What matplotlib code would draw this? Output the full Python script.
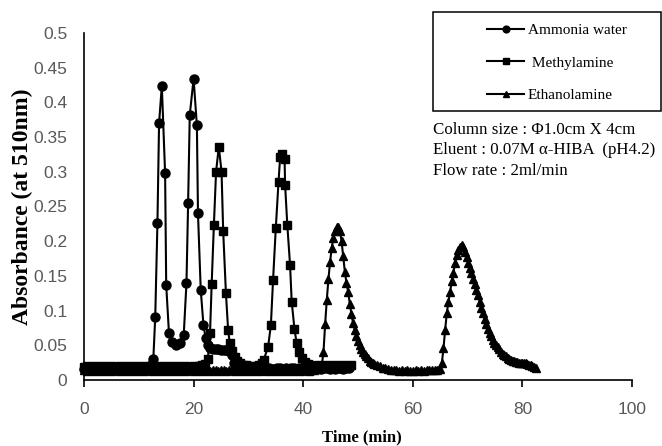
import matplotlib.pyplot as plt
from matplotlib.patches import Rectangle

# Ammonia water (circles)
t_amm = [0, 0.5, 1, 1.5, 2, 2.5, 3, 3.5, 4, 4.5, 5, 5.5, 6, 6.5, 7, 7.5, 8, 8.5, 9, 9.5,
         10, 10.5, 11, 11.5, 12, 12.3,
         12.65, 13.0, 13.4, 13.7, 14.2, 14.8, 15.0, 15.5, 16.1, 16.8, 17.5, 18.2, 18.7, 19.0,
         19.3, 20.0, 20.6, 20.8, 21.3, 21.8, 22.2, 22.6, 23.0, 23.5, 24.0, 24.5, 25.0, 25.5,
         26.0, 26.5, 27.0, 27.4, 27.8,
         28.3, 28.8, 29.3, 29.8, 30.3, 30.8, 31.3, 31.8, 32.3, 32.8, 33.3, 33.8, 34.3, 34.8,
         35.3, 35.8, 36.3, 36.8, 37.3, 37.8, 38.3, 38.8, 39.3, 39.8, 40.3, 40.8, 41.3, 41.8,
         42.3, 42.8, 43.3, 43.8, 44.3, 44.8, 45.3, 45.8, 46.3, 46.8, 47.3, 47.8, 48.3]
a_amm = [0.016, 0.017, 0.016, 0.016, 0.015, 0.016, 0.017, 0.016, 0.016, 0.015, 0.016, 0.016,
         0.017, 0.016, 0.015, 0.016, 0.016, 0.017, 0.016, 0.016, 0.015, 0.016, 0.016, 0.017,
         0.018, 0.021,
         0.030, 0.091, 0.226, 0.370, 0.424, 0.298, 0.137, 0.068, 0.055, 0.050, 0.053, 0.065,
         0.140, 0.255, 0.382, 0.434, 0.367, 0.240, 0.130, 0.079, 0.060, 0.050, 0.046, 0.045,
         0.044, 0.044, 0.043, 0.043, 0.043, 0.042, 0.036, 0.024, 0.019,
         0.017, 0.017, 0.016, 0.017, 0.016, 0.016, 0.017, 0.016, 0.017, 0.017, 0.016, 0.017,
         0.016, 0.016, 0.017, 0.017, 0.016, 0.017, 0.016, 0.017, 0.017, 0.016, 0.017, 0.016,
         0.017, 0.016, 0.017, 0.017, 0.016, 0.017, 0.016, 0.017, 0.017, 0.016, 0.017, 0.016,
         0.017, 0.017, 0.016, 0.017, 0.017]

# Methylamine (squares)
t_met = [0, 0.5, 1, 1.5, 2, 2.5, 3, 3.5, 4, 4.5, 5, 5.5, 6, 6.5, 7, 7.5, 8, 8.5, 9, 9.5,
         10, 10.5, 11, 11.5, 12, 12.5, 13, 13.5, 14, 14.5, 15, 15.5, 16, 16.5, 17, 17.5,
         18, 18.5, 19, 19.5, 20, 20.5, 21, 21.5, 22,
         22.6, 23.0, 23.3, 23.7, 24.1, 24.6, 25.1, 25.4, 25.9, 26.3, 26.6, 27.0, 27.5, 28.0,
         28.5, 29.0, 29.5, 30.0, 30.5, 31.0, 31.5, 32.0, 32.4, 32.8,
         33.6, 34.1, 34.5, 35.0, 35.5, 35.8, 36.2, 36.6, 36.7, 37.1, 37.6, 37.9, 38.4, 38.8,
         39.3, 39.8, 40.3, 40.8,
         41.3, 41.8, 42.3, 42.8, 43.3, 43.8, 44.3, 44.8, 45.3, 45.8, 46.3, 46.8, 47.3, 47.8,
         48.3, 48.8]
a_met = [0.019, 0.020, 0.019, 0.019, 0.020, 0.019, 0.019, 0.020, 0.019, 0.019, 0.020, 0.019,
         0.019, 0.020, 0.019, 0.019, 0.020, 0.019, 0.019, 0.020, 0.019, 0.019, 0.020, 0.019,
         0.019, 0.020, 0.019, 0.019, 0.020, 0.019, 0.019, 0.020, 0.019, 0.019, 0.020, 0.019,
         0.019, 0.020, 0.019, 0.019, 0.020, 0.019, 0.020, 0.021, 0.023,
         0.030, 0.068, 0.139, 0.223, 0.300, 0.336, 0.300, 0.214, 0.125, 0.072, 0.053, 0.042,
         0.033, 0.027, 0.024, 0.022, 0.021, 0.020, 0.020, 0.019, 0.020, 0.021, 0.024, 0.029,
         0.048, 0.079, 0.144, 0.219, 0.286, 0.322, 0.325, 0.318, 0.281, 0.223, 0.166, 0.113,
         0.074, 0.053, 0.040, 0.032, 0.026, 0.023,
         0.021, 0.020, 0.020, 0.021, 0.020, 0.020, 0.021, 0.020, 0.020, 0.021, 0.020, 0.020,
         0.021, 0.020, 0.020, 0.021]

# Ethanolamine (triangles)
t_eth = [0, 0.5, 1, 1.5, 2, 2.5, 3, 3.5, 4, 4.5, 5, 5.5, 6, 6.5, 7, 7.5, 8, 8.5, 9, 9.5,
         10, 10.5, 11, 11.5, 12, 12.5, 13, 13.5, 14, 14.5, 15, 15.5, 16, 16.5, 17, 17.5,
         18, 18.5, 19, 19.5, 20, 20.5, 21, 21.5, 22, 22.5, 23, 23.5, 24, 24.5, 25, 25.5,
         26, 26.5, 27, 27.5, 28, 28.5, 29, 29.5, 30, 30.5, 31, 31.5, 32, 32.5, 33, 33.5,
         34, 34.5, 35, 35.5, 36, 36.5, 37, 37.5, 38, 38.5, 39, 39.5, 40, 40.5, 41, 41.5,
         42, 42.5, 43,
         43.4, 43.7, 44.0, 44.3, 44.6, 44.9, 45.2, 45.5, 45.8, 46.1, 46.4, 46.7, 47.0, 47.3,
         47.6, 47.9, 48.2, 48.5, 48.8, 49.1, 49.4, 49.7, 50.0, 50.3, 50.6, 50.9, 51.2, 51.5,
         51.8, 52.1, 52.4, 52.7, 53.0, 53.5, 54.0, 54.5, 55.0, 55.5,
         56, 56.5, 57, 57.5, 58, 58.5, 59, 59.5, 60, 60.5, 61, 61.5, 62, 62.5, 63, 63.5,
         64, 64.5, 65,
         65.3, 65.6, 65.9, 66.2, 66.5, 66.8, 67.1, 67.4, 67.7, 68.0, 68.3, 68.6, 68.9, 69.2,
         69.5, 69.8, 70.1, 70.4, 70.7, 71.0, 71.3, 71.6, 71.9, 72.2, 72.5, 72.8, 73.1, 73.4,
         73.7, 74.0, 74.3, 74.6, 74.9, 75.2, 75.5, 75.8, 76.1, 76.4, 76.7, 77.0, 77.3, 77.6,
         77.9, 78.2, 78.5, 78.8, 79.1, 79.4, 79.7, 80.0, 80.3, 80.6, 80.9, 81.2, 81.5, 81.8,
         82.1, 82.4]
a_eth = [0.014, 0.013, 0.014, 0.014, 0.013, 0.014, 0.014, 0.013, 0.014, 0.014, 0.013, 0.014,
         0.014, 0.013, 0.014, 0.014, 0.013, 0.014, 0.014, 0.013, 0.014, 0.014, 0.013, 0.014,
         0.014, 0.013, 0.014, 0.014, 0.013, 0.014, 0.014, 0.013, 0.014, 0.014, 0.013, 0.014,
         0.014, 0.013, 0.014, 0.014, 0.013, 0.014, 0.014, 0.013, 0.014, 0.014, 0.013, 0.014,
         0.014, 0.013, 0.014, 0.014, 0.013, 0.014, 0.014, 0.013, 0.014, 0.014, 0.013, 0.014,
         0.014, 0.013, 0.014, 0.014, 0.013, 0.014, 0.014, 0.013, 0.014, 0.014, 0.013, 0.014,
         0.014, 0.013, 0.014, 0.014, 0.013, 0.014, 0.014, 0.013, 0.014, 0.014, 0.013, 0.014,
         0.015, 0.016, 0.018,
         0.022, 0.040, 0.080, 0.115, 0.145, 0.170, 0.190, 0.205, 0.215, 0.220, 0.221, 0.215,
         0.200, 0.178, 0.156, 0.140, 0.127, 0.110, 0.095, 0.082, 0.072, 0.063, 0.056, 0.050,
         0.045, 0.041, 0.037, 0.034, 0.031, 0.028, 0.026, 0.025, 0.023, 0.021, 0.020, 0.018,
         0.017, 0.016,
         0.015, 0.014, 0.014, 0.013, 0.014, 0.013, 0.014, 0.013, 0.013, 0.014, 0.013, 0.014,
         0.013, 0.014, 0.014, 0.014, 0.015, 0.015, 0.016,
         0.024, 0.046, 0.072, 0.096, 0.113, 0.127, 0.142, 0.154, 0.168, 0.180, 0.187, 0.192,
         0.195, 0.192, 0.185, 0.177, 0.169, 0.161, 0.154, 0.146, 0.139, 0.130, 0.122, 0.113,
         0.104, 0.096, 0.088, 0.080, 0.074, 0.068, 0.063, 0.058, 0.054, 0.050, 0.047, 0.044,
         0.041, 0.038, 0.036, 0.034, 0.032, 0.030, 0.029, 0.028, 0.027, 0.026, 0.026, 0.025,
         0.025, 0.024, 0.024, 0.024, 0.023, 0.022, 0.021, 0.020, 0.019, 0.018]

x_ticks = [0, 20, 40, 60, 80, 100]
y_ticks = [0, 0.05, 0.1, 0.15, 0.2, 0.25, 0.3, 0.35, 0.4, 0.45, 0.5]
y_labels = ["0", "0.05", "0.1", "0.15", "0.2", "0.25", "0.3", "0.35", "0.4", "0.45", "0.5"]
notes = ["Column size : \u03a61.0cm X 4cm",
         "Eluent : 0.07M \u03b1-HIBA  (pH4.2)",
         "Flow rate : 2ml/min"]

serif = ["Liberation Serif", "DejaVu Serif"]
tickfont = ["Liberation Sans Narrow", "Liberation Sans", "DejaVu Sans"]
W, H = 662, 446

fig = plt.figure(figsize=(W / 100, H / 100), dpi=100)
ax = fig.add_axes([84 / W, 1 - 380 / H, 548 / W, 347 / H])

ax.plot(t_amm, a_amm, color="black", lw=1.5, marker="o", ms=6.5, clip_on=False, label="Ammonia water")
ax.plot(t_met, a_met, color="black", lw=1.5, marker="s", ms=6, clip_on=False, label=" Methylamine")
ax.plot(t_eth, a_eth, color="black", lw=1.5, marker="^", ms=6, clip_on=False, label="Ethanolamine")

ax.set_xlim(0, 100)
ax.set_ylim(0, 0.5)
ax.set_xticks(x_ticks)
ax.set_yticks(y_ticks)
ax.set_yticklabels(y_labels)
for s in ["top", "right"]:
    ax.spines[s].set_visible(False)
for s in ["left", "bottom"]:
    ax.spines[s].set_linewidth(1.2)
ax.tick_params(axis="y", length=0, pad=12, labelcolor="#595959", labelsize=12.5)
ax.tick_params(axis="x", length=5, width=1.2, direction="out", pad=11, labelcolor="#595959", labelsize=12.5)
for lab in ax.get_xticklabels() + ax.get_yticklabels():
    lab.set_family(tickfont)

fig.text(22 / W, 1 - 207 / H, "Absorbance (at 510nm)", rotation=90, ha="center", va="center",
         fontsize=17, fontweight="bold", family=serif)
fig.text(362 / W, 1 - 437 / H, "Time (min)", ha="center", va="center",
         fontsize=12, fontweight="bold", family=serif)

leg = ax.legend(loc="upper left", bbox_to_anchor=(476 / W, 1 - 12 / H), bbox_transform=fig.transFigure,
                frameon=False, handlelength=2.4, handletextpad=0.25, labelspacing=1.23, borderpad=0.75,
                borderaxespad=0, numpoints=1, markerscale=0.75, prop={"family": serif, "size": 11})
fig.patches.append(Rectangle((433 / W, 1 - 111 / H), 227.5 / W, 99 / H, transform=fig.transFigure,
                             fill=False, lw=1.1, ec="black"))

for i, line in enumerate(notes):
    fig.text(433 / W, 1 - (130 + 20.5 * i) / H, line, ha="left", va="center", fontsize=12.2, family=serif)

fig.savefig("out.png", dpi=100)
